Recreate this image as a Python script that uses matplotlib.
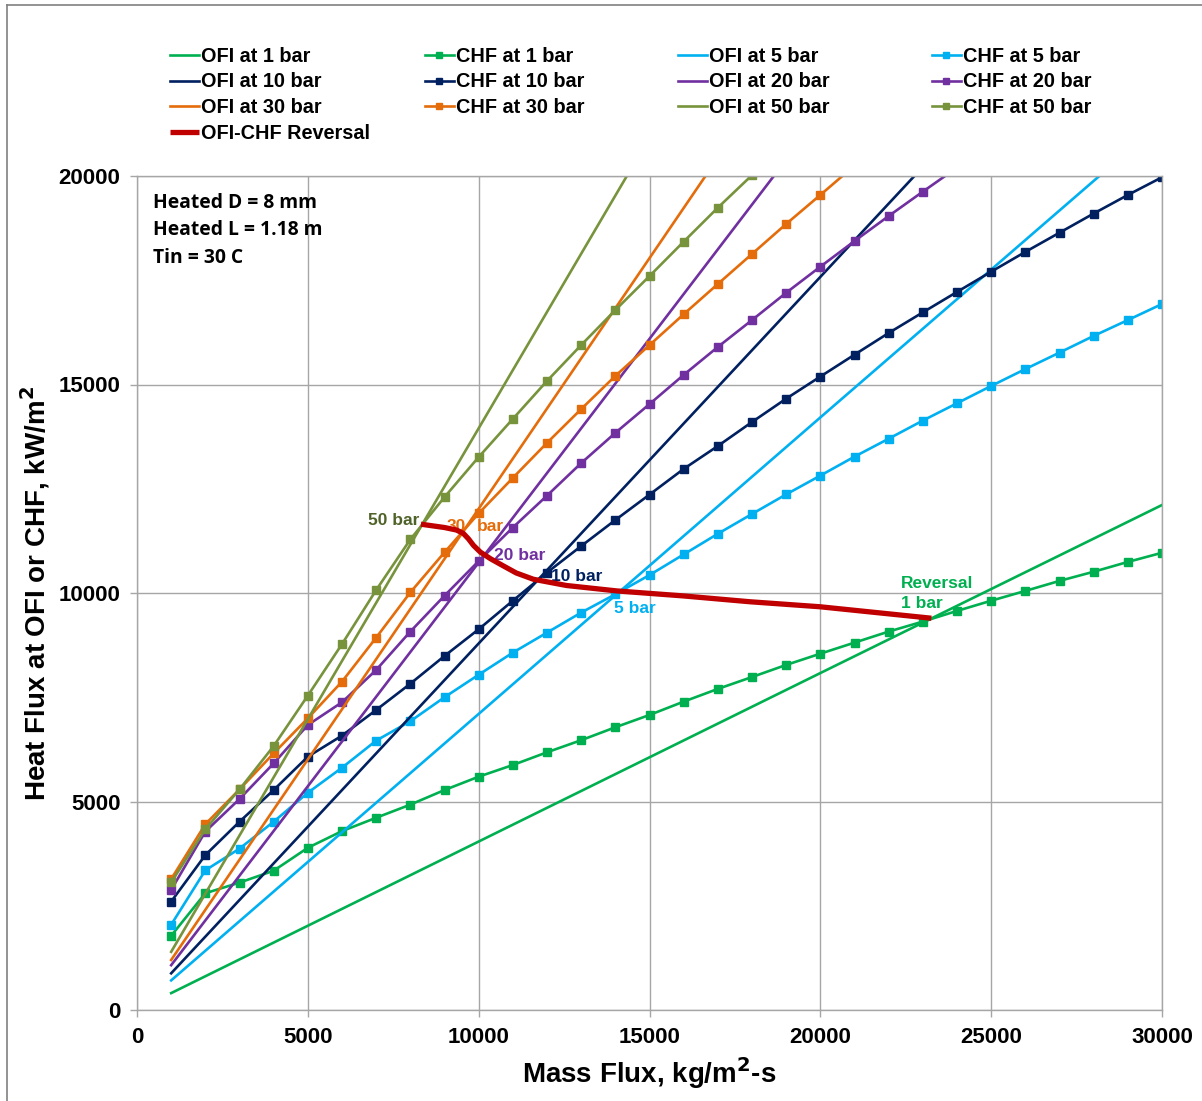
import matplotlib
matplotlib.use("Agg")
from matplotlib import pyplot as plt
from matplotlib.lines import Line2D

# Mass flux points for CHF curves (kg/m2-s)
g = [1000, 2000, 3000, 4000, 5000, 6000, 7000, 8000, 9000, 10000,
     11000, 12000, 13000, 14000, 15000, 16000, 17000, 18000, 19000, 20000,
     21000, 22000, 23000, 24000, 25000, 26000, 27000, 28000, 29000, 30000]

chf_1 = [1780, 2800, 3055, 3340, 3890, 4290, 4610, 4925, 5275, 5595,
         5875, 6180, 6470, 6780, 7075, 7395, 7700, 7985, 8275, 8545,
         8810, 9075, 9315, 9570, 9815, 10050, 10290, 10510, 10745, 10965]
chf_5 = [2045, 3350, 3870, 4515, 5210, 5810, 6460, 6925, 7500, 8040,
         8570, 9050, 9530, 9970, 10430, 10925, 11420, 11895, 12365, 12815,
         13270, 13700, 14135, 14550, 14965, 15370, 15765, 16165, 16545, 16930]
chf_10 = [2600, 3715, 4515, 5275, 6075, 6580, 7195, 7825, 8490, 9130,
          9815, 10490, 11125, 11750, 12360, 12975, 13525, 14100, 14660, 15190,
          15715, 16235, 16730, 17220, 17705, 18180, 18640, 19100, 19545, 19970]
chf_20 = [2880, 4280, 5060, 5915, 6835, 7380, 8155, 9075, 9935, 10765,
          11570, 12335, 13115, 13840, 14530, 15230, 15900, 16545, 17200, 17825,
          18440, 19040, 19625, 20200]
chf_30 = [3140, 4455, 5290, 6155, 6995, 7875, 8930, 10015, 10975, 11910,
          12760, 13600, 14410, 15205, 15945, 16685, 17410, 18130, 18850, 19545,
          20250]
chf_50 = [3060, 4335, 5290, 6330, 7540, 8775, 10070, 11285, 12300, 13260,
          14175, 15085, 15945, 16785, 17600, 18425, 19240, 20020]

# OFI lines (straight), read at a few mass fluxes
ofi_g = [1000, 10000, 20000, 30000]
ofi_1 = [405, 4040, 8080, 12110]
ofi_5 = [710, 7100, 14210, 21300]
ofi_10 = [880, 8790, 17580, 26370]
ofi_20 = [1075, 10730, 21460, 32190]
ofi_30 = [1200, 12020, 24040, 36060]
ofi_50 = [1395, 13950, 27900, 41850]

# OFI-CHF reversal curve
rev_g = [8310, 9000, 9350, 9550, 9700, 9850, 10050, 10350, 10700, 11100,
         11600, 12570, 14040, 15990, 17940, 19990, 23250]
rev_q = [11650, 11570, 11510, 11430, 11300, 11140, 10980, 10820, 10660, 10480,
         10330, 10180, 10050, 9930, 9790, 9670, 9395]

cols = {"1": "#00B050", "5": "#00B0F0", "10": "#002060",
        "20": "#7030A0", "30": "#E46C0A", "50": "#77933C"}
red = "#C00000"

plt.rcParams['font.family'] = ['Liberation Sans', 'DejaVu Sans']

fig = plt.figure(figsize=(12.02, 11.01), dpi=100)
ax = fig.add_axes([137 / 1202, 91 / 1101, 1025 / 1202, 834 / 1101])

lw = 1.9
ms = 5.5
handles = {}
ofi = {"1": ofi_1, "5": ofi_5, "10": ofi_10, "20": ofi_20, "30": ofi_30, "50": ofi_50}
chf = {"1": chf_1, "5": chf_5, "10": chf_10, "20": chf_20, "30": chf_30, "50": chf_50}
for p in ["1", "5", "10", "20", "30", "50"]:
    c = cols[p]
    h1, = ax.plot(ofi_g, ofi[p], color=c, lw=lw, label="OFI at %s bar" % p)
    h2, = ax.plot(g[:len(chf[p])], chf[p], color=c, lw=lw, marker="s",
                  ms=ms, label="CHF at %s bar" % p)
    handles["OFI" + p] = h1
    handles["CHF" + p] = h2

hr, = ax.plot(rev_g, rev_q, color=red, lw=3.8, solid_capstyle="butt",
              solid_joinstyle="round", label="OFI-CHF Reversal", zorder=5)
handles["REV"] = hr

ax.set_xlim(0, 30000)
ax.set_ylim(0, 20000)
ax.set_xticks(range(0, 30001, 5000))
ax.set_yticks(range(0, 20001, 5000))
ax.grid(True, color="#A6A6A6", lw=1.0)
ax.set_axisbelow(True)
for s in ax.spines.values():
    s.set_color("#A6A6A6")
    s.set_linewidth(1.0)
ax.tick_params(axis="both", colors="#A6A6A6", length=5, width=1.0,
               labelcolor="black", labelsize=16, pad=7)
for t in ax.get_xticklabels() + ax.get_yticklabels():
    t.set_fontweight("bold")

ax.set_xlabel("Mass Flux, kg/m$^\\mathbf{2}$-s", fontsize=20, fontweight="bold", labelpad=5)
ax.set_ylabel("Heat Flux at OFI or CHF, kW/m$^\\mathbf{2}$", fontsize=20,
              fontweight="bold", labelpad=5)

# legend: four columns placed like the original
legend_cols = [["OFI1", "OFI10", "OFI30", "REV"],
               ["CHF1", "CHF10", "CHF30"],
               ["OFI5", "OFI20", "OFI50"],
               ["CHF5", "CHF20", "CHF50"]]
col_x = [162, 417, 670, 924]
for keys, x0 in zip(legend_cols, col_x):
    hl = [handles[k] for k in keys]
    fig.legend(handles=hl, labels=[h.get_label() for h in hl],
               loc="upper left", bbox_to_anchor=(x0 / 1202, 1 - 39 / 1101),
               frameon=False, prop={"weight": "bold", "size": 14.3},
               handlelength=1.45, handletextpad=0.1, labelspacing=0.33,
               borderaxespad=0, markerscale=0.9)

# info box text
for i, s in enumerate(["Heated D = 8 mm", "Heated L = 1.18 m", "Tin = 30 C"]):
    ax.text(0.0155, 0.98 - i * 0.033, s, transform=ax.transAxes, fontsize=13.9,
            fontweight="bold", family=["Open Sans", "DejaVu Sans"], va="top")

# curve labels
lbl = dict(fontsize=12.5, fontweight="bold", va="center")
ax.text(6750, 11750, "50 bar", color="#4F6228", **lbl)
ax.text(9050, 11600, "30", color=cols["30"], **lbl)
ax.text(9950, 11600, "bar", color=cols["30"], **lbl)
ax.text(10450, 10900, "20 bar", color=cols["20"], **lbl)
ax.text(12130, 10400, "10 bar", color=cols["10"], **lbl)
ax.text(13950, 9640, "5 bar", color=cols["5"], **lbl)
ax.text(22350, 10230, "Reversal", color=cols["1"], **lbl)
ax.text(22350, 9750, "1 bar", color=cols["1"], **lbl)

# outer chart border (left and top visible)
fig.add_artist(Line2D([7 / 1202, 7 / 1202], [0, 1 - 5 / 1101], color="#808080",
                      lw=1.2, transform=fig.transFigure))
fig.add_artist(Line2D([7 / 1202, 1], [1 - 5 / 1101, 1 - 5 / 1101], color="#808080",
                      lw=1.2, transform=fig.transFigure))

fig.savefig("out.png", dpi=100)
